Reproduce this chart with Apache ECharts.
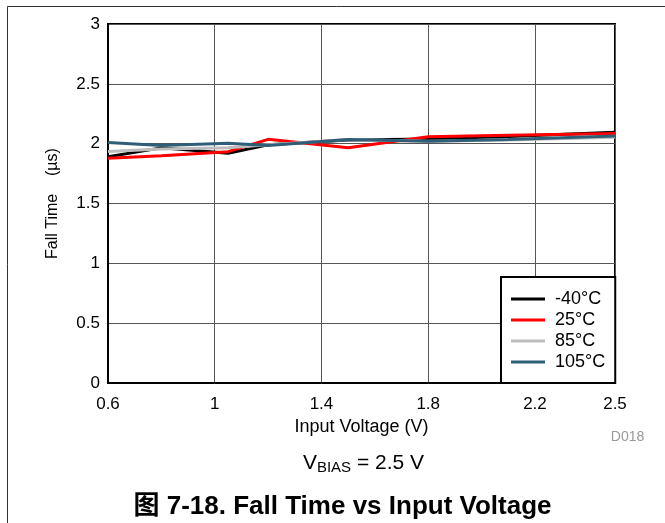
<!DOCTYPE html>
<html>
<head>
<meta charset="utf-8">
<script src="https://cdn.jsdelivr.net/npm/echarts@6/dist/echarts.min.js"></script>
<style>
html,body{margin:0;padding:0;background:#fff;}
#c{width:665px;height:523px;}
</style>
</head>
<body>
<div id="c"></div>
<script>
// Data
var xValues = [0.6, 0.8, 1.05, 1.2, 1.5, 1.8, 2.1, 2.5];
var seriesNames = ['-40°C', '25°C', '85°C', '105°C'];
var tMinus40 = [1.89, 1.965, 1.92, 1.99, 2.03, 2.04, 2.06, 2.095];
var t25 = [1.878, 1.90, 1.933, 2.036, 1.966, 2.058, 2.07, 2.086];
var t85 = [1.935, 1.955, 1.965, 1.99, 2.035, 2.02, 2.03, 2.053];
var t105 = [2.01, 1.985, 2.003, 1.985, 2.035, 2.02, 2.035, 2.065];
var xMin = 0.6, xMax = 2.5, xStep = 0.4;
var yTicks = [0, 0.5, 1, 1.5, 2, 2.5, 3];

var colors = ['#000000', '#ff0000', '#bdbdbd', '#2f5f78'];
var allSeries = [tMinus40, t25, t85, t105];
var FONT = '"Liberation Sans", Arial, sans-serif';

function pairs(arr) {
  return arr.map(function (v, i) { return [xValues[i] - xMin, v]; });
}

var chart = echarts.init(document.getElementById('c'), null, {renderer: 'canvas'});
chart.setOption({
  backgroundColor: '#fff',
  animation: false,
  textStyle: {fontFamily: FONT},
  grid: {left: 108, right: 50, top: 24, bottom: 140, show: true, borderColor: '#000', borderWidth: 2, backgroundColor: '#fff'},
  xAxis: {
    type: 'value', min: 0, max: +(xMax - xMin).toFixed(2), interval: xStep,
    name: 'Input Voltage (V)', nameLocation: 'middle', nameGap: 30,
    nameTextStyle: {fontSize: 18, color: '#000', fontFamily: FONT},
    axisLine: {show: true, onZero: false, lineStyle: {color: '#000', width: 2}},
    axisTick: {show: false},
    splitLine: {show: true, lineStyle: {color: '#555', width: 1}},
    axisLabel: {fontSize: 17, color: '#000', margin: 13, fontFamily: FONT,
      formatter: function (v) { return String(parseFloat((v + xMin).toFixed(1))); }}
  },
  yAxis: {
    type: 'value', min: yTicks[0], max: yTicks[yTicks.length - 1], interval: 0.5,
    name: 'Fall Time    (µs)', nameLocation: 'middle', nameGap: 47,
    nameTextStyle: {fontSize: 16, color: '#000', fontFamily: FONT},
    axisLine: {show: true, lineStyle: {color: '#000', width: 2}},
    axisTick: {show: false},
    splitLine: {show: true, lineStyle: {color: '#555', width: 1}},
    axisLabel: {fontSize: 17, color: '#000', margin: 8, fontFamily: FONT}
  },
  legend: {
    orient: 'vertical', left: 501, top: 277,
    backgroundColor: '#fff', borderColor: '#000', borderWidth: 2,
    padding: [13, 10, 12, 10], itemGap: 3, itemWidth: 34, itemHeight: 3,
    icon: 'rect',
    textStyle: {fontSize: 18, color: '#000', fontFamily: FONT, lineHeight: 18, padding: [0, 0, 0, 5]},
    data: seriesNames
  },
  series: seriesNames.map(function (n, i) {
    return {
      name: n, type: 'line', data: pairs(allSeries[i]),
      showSymbol: false, symbol: 'none',
      lineStyle: {color: colors[i], width: 3},
      itemStyle: {color: colors[i]},
      z: 2 + i
    };
  }),
  graphic: [
    {type: 'line', shape: {x1: 7.5, y1: 6.5, x2: 665, y2: 6.5}, style: {stroke: '#333', lineWidth: 1}},
    {type: 'line', shape: {x1: 7.5, y1: 6.5, x2: 7.5, y2: 523}, style: {stroke: '#333', lineWidth: 1}},
    {type: 'text', x: 627.5, y: 437, style: {text: 'D018', fontSize: 14, fill: '#999', fontFamily: FONT, align: 'center', verticalAlign: 'middle'}},
    {type: 'text', x: 363.5, y: 463,
      style: {
        text: '{v|V}{s|BIAS}{v| = 2.5 V}',
        align: 'center', verticalAlign: 'middle',
        rich: {
          v: {fontSize: 21, fill: '#000', fontFamily: FONT},
          s: {fontSize: 15, fill: '#000', fontFamily: FONT, padding: [10, 0, 0, 0]}
        }
      }
    },
    {type: 'text', x: 342.5, y: 507,
      style: {text: '图 7-18. Fall Time vs Input Voltage', align: 'center', verticalAlign: 'middle',
        fontSize: 26, fontWeight: 'bold', fill: '#000',
        fontFamily: '"Liberation Sans", Arial, "Noto Sans CJK SC", sans-serif'}}
  ]
});
</script>
</body>
</html>
